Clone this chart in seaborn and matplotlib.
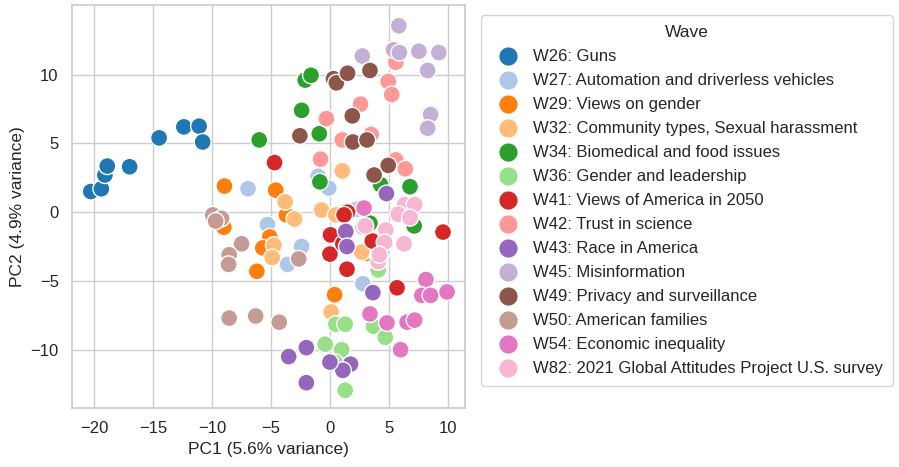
import numpy as np
import pandas as pd
import matplotlib
matplotlib.use("Agg")
import matplotlib.pyplot as plt
import seaborn as sns

# Wave labels, in legend order
waves = [
    "W26: Guns",
    "W27: Automation and driverless vehicles",
    "W29: Views on gender",
    "W32: Community types, Sexual harassment",
    "W34: Biomedical and food issues",
    "W36: Gender and leadership",
    "W41: Views of America in 2050",
    "W42: Trust in science",
    "W43: Race in America",
    "W45: Misinformation",
    "W49: Privacy and surveillance",
    "W50: American families",
    "W54: Economic inequality",
    "W82: 2021 Global Attitudes Project U.S. survey",
]

# PC coordinates, one list per wave
w26_pc1 = [-20.3, -19.4, -19.1, -18.9, -17.0, -14.5, -12.4, -11.1, -10.8]
w26_pc2 = [1.5, 1.7, 2.7, 3.35, 3.3, 5.4, 6.2, 6.25, 5.1]

w27_pc1 = [-6.95, -5.3, -3.6, -2.4, -1.0, -0.1, 2.26, 2.8, 2.8]
w27_pc2 = [1.7, -0.9, -3.8, -2.5, 2.6, 1.75, 0.2, -1.1, -5.2]

w29_pc1 = [-8.95, -4.6, -9.0, -3.7, -5.1, -5.7, -6.2, 3.1, 0.4, 2.9]
w29_pc2 = [1.9, 1.6, -1.1, -0.2, -1.8, -2.6, -4.3, -3.0, -6.0, -2.8]

w32_pc1 = [-3.8, -4.75, -4.9, -3.0, -0.7, 0.5, 0.1, 1.05, 2.7]
w32_pc2 = [0.75, -2.4, -3.3, -0.5, 0.15, -0.2, -7.25, 3.0, -2.9]

w34_pc1 = [-6.0, -2.1, -1.6, -2.4, -0.9, -0.85, 4.3, 6.8, 7.15, 3.4]
w34_pc2 = [5.25, 9.6, 9.95, 7.4, 5.7, 2.2, 2.0, 1.85, -1.0, -0.8]

w36_pc1 = [4.4, 4.1, 0.5, 1.3, 3.7, 4.7, -0.4, 1.0, 0.4, 1.3]
w36_pc2 = [-2.9, -4.2, -8.15, -8.15, -8.3, -9.1, -9.6, -10.0, -10.9, -12.95]

w41_pc1 = [-4.7, 1.5, 0.05, 0.0, 1.45, 1.1, 3.6, 5.7, 9.6, 1.2]
w41_pc2 = [3.6, 0.0, -1.65, -3.05, -4.15, -2.3, -2.1, -5.5, -1.45, -0.2]

w42_pc1 = [5.6, 4.95, 5.25, 2.6, -0.3, 1.05, 3.5, -0.8, 5.6, 6.4]
w42_pc2 = [10.9, 9.5, 8.55, 7.85, 6.8, 5.25, 5.65, 3.85, 3.8, 3.15]

w43_pc1 = [4.8, 1.35, 1.45, 3.65, -3.5, -2.0, 1.75, 1.1, 0.0, -2.0]
w43_pc2 = [1.35, -1.4, -2.5, -5.85, -10.5, -9.85, -11.05, -11.5, -10.9, -12.4]

w45_pc1 = [5.85, 5.4, 5.9, 7.55, 9.25, 8.3, 8.55, 8.3, 2.75]
w45_pc2 = [13.55, 11.8, 11.6, 11.7, 11.6, 10.3, 7.1, 6.1, 11.35]

w49_pc1 = [0.3, 0.55, 1.5, 3.4, 1.9, -2.55, 1.95, 3.15, 4.95, 3.75]
w49_pc2 = [9.7, 9.4, 10.1, 10.3, 7.0, 5.55, 5.1, 5.25, 3.4, 2.7]

w50_pc1 = [-9.95, -9.2, -9.7, -7.5, -8.55, -8.6, -8.55, -6.3, -2.65, -4.3]
w50_pc2 = [-0.2, -0.45, -0.65, -2.3, -3.1, -3.8, -7.7, -7.55, -3.4, -8.0]

w54_pc1 = [8.15, 7.8, 8.55, 9.95, 3.4, 4.85, 6.55, 7.2, 6.0, 2.9]
w54_pc2 = [-4.9, -6.05, -6.05, -5.8, -7.4, -8.05, -8.0, -7.85, -10.0, 0.3]

w82_pc1 = [6.35, 7.2, 5.8, 6.8, 4.75, 4.65, 6.3, 4.1, 3.0, 4.2]
w82_pc2 = [0.55, 0.55, -0.15, -0.4, -1.3, -2.2, -2.3, -3.6, -1.0, -3.1]

pc1_lists = [w26_pc1, w27_pc1, w29_pc1, w32_pc1, w34_pc1, w36_pc1, w41_pc1,
             w42_pc1, w43_pc1, w45_pc1, w49_pc1, w50_pc1, w54_pc1, w82_pc1]
pc2_lists = [w26_pc2, w27_pc2, w29_pc2, w32_pc2, w34_pc2, w36_pc2, w41_pc2,
             w42_pc2, w43_pc2, w45_pc2, w49_pc2, w50_pc2, w54_pc2, w82_pc2]

# Build a long table for seaborn
rows = []
for wave, xs, ys in zip(waves, pc1_lists, pc2_lists):
    for x, y in zip(xs, ys):
        rows.append({"PC1": x, "PC2": y, "Wave": wave})
df = pd.DataFrame(rows)

sns.set_theme(style="whitegrid")
plt.rcParams["font.family"] = ["Liberation Sans", "DejaVu Sans"]

fig, ax = plt.subplots(figsize=(8.99, 4.67), dpi=100)
fig.subplots_adjust(left=0.080, right=0.517, top=0.989, bottom=0.126)

palette = sns.color_palette("tab20", len(waves))
sns.scatterplot(data=df, x="PC1", y="PC2", hue="Wave", hue_order=waves,
                palette=palette, s=150, edgecolor="white", linewidth=1, ax=ax)

ax.set_xlim(-21.9, 11.45)
ax.set_ylim(-14.25, 15.05)
ax.set_xticks([-20, -15, -10, -5, 0, 5, 10])
ax.set_yticks([-10, -5, 0, 5, 10])
ax.tick_params(labelsize=12)
ax.set_xlabel("PC1 (5.6% variance)", fontsize=12.5)
ax.set_ylabel("PC2 (4.9% variance)", fontsize=12.5)

leg = ax.legend(title="Wave", loc="upper left", bbox_to_anchor=(1.02, 0.995),
                fontsize=12, title_fontsize=12.5, markerscale=1.15,
                labelspacing=0.54, handletextpad=0.5, borderpad=0.6)

plt.savefig("out.png", dpi=100)
